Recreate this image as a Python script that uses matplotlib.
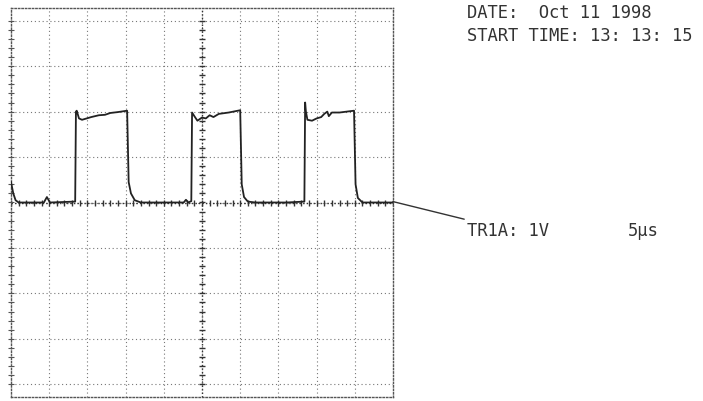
import numpy as np
import matplotlib
matplotlib.use("Agg")
import matplotlib.pyplot as plt

# scope settings (5 us/div, 1 V/div, 10 x 8 graticule)
us_per_div = 5
v_per_div = 1
date_text = "DATE:  Oct 11 1998"
start_text = "START TIME: 13: 13: 15"
chan_text = "TR1A: 1V"
tb_text = "5\u00b5s"

# trace (time in us, level in V)
t_us = [0.0, 0.3, 0.6, 1.0, 4.3, 4.7, 5.1, 8.4,
        8.5, 8.6, 8.9, 9.3, 10.5, 11.5, 12.3, 13.0, 14.0, 15.2,
        15.4, 15.7, 16.2, 17.0, 22.6, 22.9, 23.2, 23.6,
        23.7, 24.0, 24.4, 25.0, 25.5, 26.0, 26.5, 27.2, 28.5, 30.0,
        30.2, 30.5, 31.0, 32.0, 36.0, 38.4,
        38.5, 38.6, 38.8, 39.4, 40.0, 40.6, 41.0, 41.4, 41.6, 42.0, 43.0, 44.9,
        45.1, 45.4, 46.0, 50.0]
v_trace = [0.45, 0.20, 0.05, 0.0, 0.0, 0.12, 0.0, 0.02,
           2.00, 2.02, 1.85, 1.82, 1.88, 1.92, 1.93, 1.97, 1.99, 2.02,
           0.45, 0.20, 0.05, 0.0, 0.0, 0.06, 0.0, 0.03,
           1.98, 1.90, 1.80, 1.87, 1.85, 1.92, 1.88, 1.95, 1.98, 2.03,
           0.40, 0.12, 0.02, 0.0, 0.0, 0.02,
           2.20, 2.00, 1.82, 1.80, 1.85, 1.88, 1.95, 2.00, 1.90, 1.98, 1.98, 2.02,
           0.40, 0.10, 0.0, 0.0]

W, H = 703, 402
fig = plt.figure(figsize=(W / 100, H / 100), dpi=100)
ax = fig.add_axes([11 / W, 4 / H, 382 / W, 389 / H])
ax.set_xlim(0, 10 * us_per_div)
ax.set_ylim(-4.28 * v_per_div, 4.28 * v_per_div)
ax.set_xticks([])
ax.set_yticks([])
for s in ax.spines.values():
    s.set_linestyle((0, (1, 1.5)))
    s.set_color("#555555")
    s.set_linewidth(1.0)

dots = (0, (1, 2.5))
for i in range(1, 10):
    ax.axvline(i * us_per_div, color="#777777", lw=0.8, ls=dots, zorder=1)
for j in range(-4, 5):
    ax.axhline(j * v_per_div, color="#777777", lw=0.8, ls=dots, zorder=1)

# center axes with minor ticks
cx = 5 * us_per_div
ax.axvline(cx, color="#333333", lw=1.0, ls=(0, (1, 1.5)), zorder=1)
ax.axhline(0, color="#333333", lw=1.0, ls=(0, (1, 1.5)), zorder=1)
minor_x = np.arange(0, 10 * us_per_div + 0.01, us_per_div / 5)
minor_y = np.arange(-4, 4.01, 0.2) * v_per_div
ax.plot(minor_x, np.zeros_like(minor_x), ls="none", marker="|", ms=5,
        mew=1.0, color="#333333", zorder=2)
ax.plot(np.full_like(minor_y, cx), minor_y, ls="none", marker="_", ms=5,
        mew=1.0, color="#333333", zorder=2)
ax.plot(np.zeros_like(minor_y), minor_y, ls="none", marker="_", ms=4,
        mew=0.8, color="#555555", zorder=2, clip_on=False)

ax.plot(t_us, v_trace, color="#222222", lw=1.3, zorder=3)

fnt = dict(family="DejaVu Sans Mono", size=12.3, color="#333333")
fig.text(467 / W, 1 - 12.5 / H, date_text, va="center", ha="left", **fnt)
fig.text(467 / W, 1 - 36 / H, start_text, va="center", ha="left", **fnt)
ax.annotate(chan_text, xy=(10 * us_per_div, 0.02), xycoords="data",
            xytext=(467 / W, 1 - 231 / H), textcoords="figure fraction",
            va="center", ha="left",
            arrowprops=dict(arrowstyle="-", color="#333333", lw=1.0,
                            shrinkA=0, shrinkB=0), **fnt)
fig.text(628 / W, 1 - 231 / H, tb_text, va="center", ha="left", **fnt)

fig.savefig("out.png", dpi=100, facecolor="white")
